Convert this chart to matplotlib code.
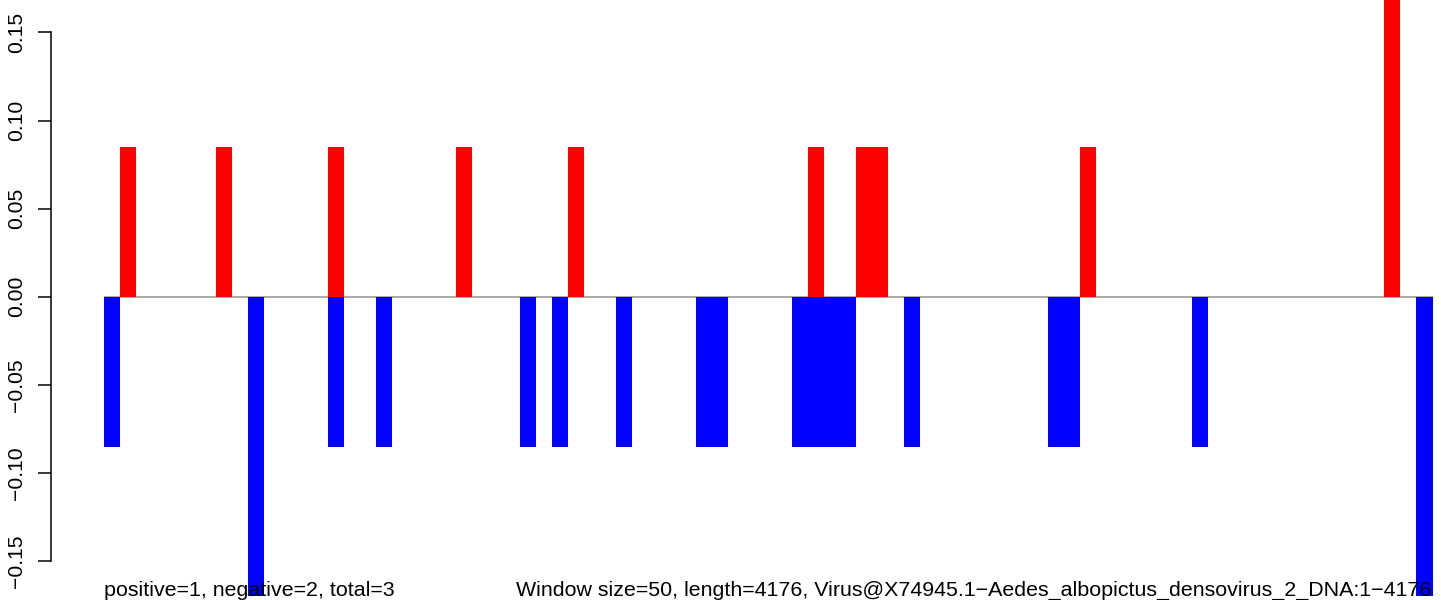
import matplotlib
matplotlib.use("Agg")
import matplotlib.pyplot as plt

# ---- data ----
n_windows = 83
pos_windows = [1, 7, 14, 22, 29, 44, 47, 48, 61, 80]
pos_values = [0.085, 0.085, 0.085, 0.085, 0.085, 0.085, 0.085, 0.085, 0.085, 0.17]
neg_windows = [0, 9, 14, 17, 26, 28, 32, 37, 38, 43, 44, 45, 46, 50, 59, 60, 68, 82]
neg_values = [-0.085, -0.17, -0.085, -0.085, -0.085, -0.085, -0.085, -0.085, -0.085,
              -0.085, -0.085, -0.085, -0.085, -0.085, -0.085, -0.085, -0.085, -0.17]
yticks = [-0.15, -0.10, -0.05, 0.00, 0.05, 0.10, 0.15]
ytick_labels = ["\u22120.15", "\u22120.10", "\u22120.05", "0.00", "0.05", "0.10", "0.15"]
left_text = "positive=1, negative=2, total=3"
right_text = ("Window size=50, length=4176, "
              "Virus@X74945.1\u2212Aedes_albopictus_densovirus_2_DNA:1\u22124176")

plt.rcParams['font.family'] = ['Liberation Sans', 'DejaVu Sans']

W, H = 1441, 600
fig = plt.figure(figsize=(W / 100, H / 100), dpi=100)
ax = fig.add_axes([104 / W, 3 / H, (1432.5 - 104) / W, 597 / H])

ax.axhline(0, color="#999999", lw=1.2, zorder=1)
ax.bar(pos_windows, pos_values, width=1.0, align="edge", color="#ff0000", lw=0, zorder=2)
ax.bar(neg_windows, neg_values, width=1.0, align="edge", color="#0000ff", lw=0, zorder=2)

ax.set_xlim(0, n_windows)
ax.set_ylim(-0.1704, 0.1684)

for s in ["top", "right", "bottom"]:
    ax.spines[s].set_visible(False)
ax.spines["left"].set_position(("outward", 38.2))
ax.spines["left"].set_bounds(-0.15, 0.15)
ax.spines["left"].set_linewidth(1.1)
ax.set_xticks([])
ax.set_yticks(yticks)
ax.set_yticklabels(ytick_labels, rotation=90, va="center", ha="right")
ax.tick_params(axis="y", length=9.1, width=1.1, pad=8.5, labelsize=15.2)

fig.text(104 / W, 1 - 596 / H, left_text, ha="left", va="baseline", fontsize=15.4, zorder=5)
fig.text(1431 / W, 1 - 596 / H, right_text, ha="right", va="baseline", fontsize=15.4, zorder=5)

fig.savefig("out.png", dpi=100)
